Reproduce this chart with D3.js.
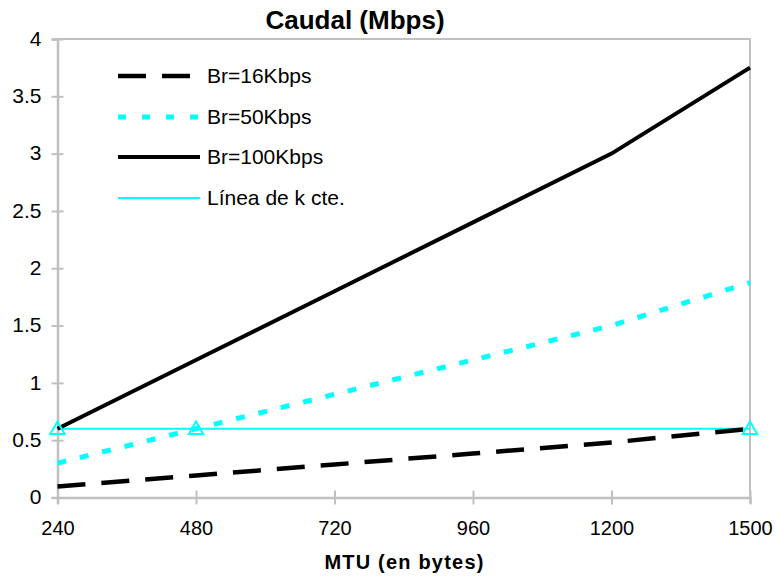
<!DOCTYPE html>
<html><head><meta charset="utf-8">
<script src="https://cdn.jsdelivr.net/npm/d3@7"></script>
<style>body{margin:0;background:#fff}svg{display:block;font-family:"Liberation Sans",Arial,sans-serif}</style>
</head><body><svg id="c" width="775" height="577"></svg>
<script>
const mtu = ["240","480","720","960","1200","1500"];
const br16 = [0.096,0.192,0.288,0.384,0.48,0.6];
const br50 = [0.3,0.6,0.9,1.2,1.5,1.875];
const br100 = [0.6,1.2,1.8,2.4,3.0,3.75];
const kLine = [0.6,0.6,0.6,0.6,0.6,0.6];
const kMarkers = [{x:"240",y:0.6},{x:"480",y:0.6},{x:"1500",y:0.6}];
const yTicks = [0,0.5,1,1.5,2,2.5,3,3.5,4];
const seriesNames = ["Br=16Kbps","Br=50Kbps","Br=100Kbps","L\u00ednea de k cte."];

const svg = d3.select("#c");
const x = d3.scalePoint().domain(mtu).range([57.5,750]);
const y = d3.scaleLinear().domain([0,4]).range([497.5,39]);
const grey = "#c0c0c0";

// frame
svg.append("path").attr("d",`M57.5,39H750V497.5`).attr("fill","none").attr("stroke",grey).attr("stroke-width",2);

// y axis
const ya = svg.append("g").attr("transform","translate(57.5,0)")
  .call(d3.axisLeft(y).tickValues(yTicks).tickSize(6).tickPadding(10).tickFormat(d=>String(d)));
ya.select(".domain").attr("stroke",grey).attr("stroke-width",2.5);
ya.selectAll(".tick line").attr("stroke",grey).attr("stroke-width",2).attr("x2",6).attr("x1",-6);
ya.selectAll(".tick text").attr("font-size",21).attr("fill","#000").attr("x",-16).attr("dy","0.3em")
  .attr("font-family","'Liberation Sans',Arial,sans-serif");

// x axis
const xa = svg.append("g").attr("transform","translate(0,497.5)")
  .call(d3.axisBottom(x).tickSize(6).tickPadding(10));
xa.select(".domain").attr("stroke",grey).attr("stroke-width",2.5);
xa.selectAll(".tick line").attr("stroke",grey).attr("stroke-width",2).attr("y1",-7).attr("y2",7);
xa.selectAll(".tick text").attr("font-size",20).attr("fill","#000").attr("y",37).attr("dy",0)
  .attr("font-family","'Liberation Sans',Arial,sans-serif");

const line = d3.line().x((d,i)=>x(mtu[i])).y(d=>y(d));

svg.append("path").datum(kLine).attr("d",line).attr("fill","none").attr("stroke","#00ffff").attr("stroke-width",2);
svg.append("path").datum(br16).attr("d",line).attr("fill","none").attr("stroke","#000").attr("stroke-width",4.5).attr("stroke-dasharray","28,16");
svg.append("path").datum(br50).attr("d",line).attr("fill","none").attr("stroke","#00ffff").attr("stroke-width",5).attr("stroke-dasharray","9,14");
svg.append("path").datum(br100).attr("d",line).attr("fill","none").attr("stroke","#000").attr("stroke-width",4);

// markers
const tri = d3.symbol().type(d3.symbolTriangle).size(90);
svg.selectAll(".km").data(kMarkers).join("path").attr("class","km")
  .attr("d",tri).attr("transform",d=>`translate(${x(d.x)},${y(d.y)+1})`)
  .attr("fill","none").attr("stroke","#00ffff").attr("stroke-width",2);

// legend
const legStyles = [
  {stroke:"#000",w:4.5,dash:"28,16",x2:191},
  {stroke:"#00ffff",w:5,dash:"8,16",x2:199},
  {stroke:"#000",w:4,dash:null,x2:200},
  {stroke:"#00ffff",w:2,dash:null,x2:200}
];
const legY = [76,117,157,198];
seriesNames.forEach((n,i)=>{
  const s = legStyles[i];
  const l = svg.append("line").attr("x1",118).attr("x2",s.x2).attr("y1",legY[i]).attr("y2",legY[i])
    .attr("stroke",s.stroke).attr("stroke-width",s.w);
  if(s.dash) l.attr("stroke-dasharray",s.dash);
  svg.append("text").attr("x",207).attr("y",legY[i]+7).attr("font-size",21).text(n);
});

// titles
svg.append("text").attr("x",355).attr("y",29).attr("text-anchor","middle").attr("font-size",26).attr("font-weight","bold").text("Caudal (Mbps)");
svg.append("text").attr("x",404.5).attr("y",569).attr("text-anchor","middle").attr("font-size",20).attr("font-weight","bold").attr("letter-spacing",1.2).text("MTU (en bytes)");
</script></body></html>
